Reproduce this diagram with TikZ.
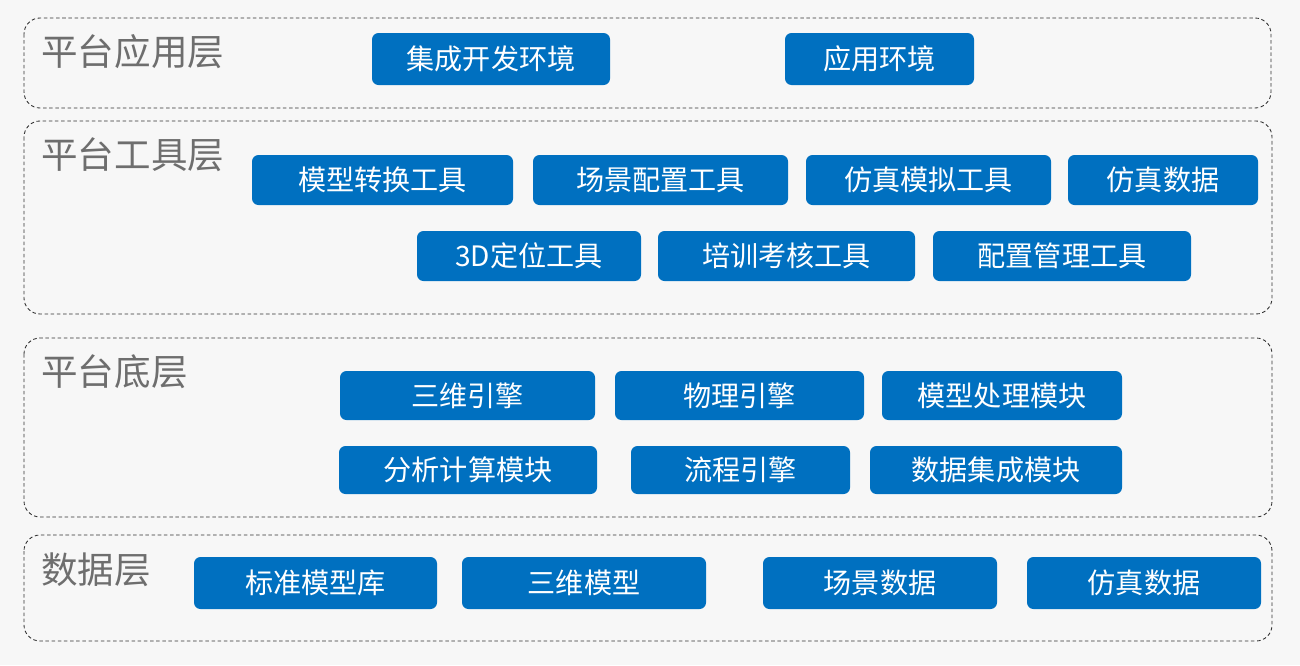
\documentclass[tikz,border=0pt]{standalone}
\usepackage{fontspec}
\setmainfont{Noto Sans CJK SC}
\usepackage{tikz}
\usetikzlibrary{positioning}
\definecolor{modblue}{RGB}{0,112,192}
\definecolor{labgray}{RGB}{110,110,110}
\definecolor{bggray}{RGB}{247,247,247}
\tikzset{
  layer/.style={draw=black!80, line width=0.5pt, dash pattern=on 2pt off 1.5pt, rounded corners=0.32cm},
  laylabel/.style={anchor=west, inner sep=0pt, text=labgray, font=\fontsize{20.8pt}{22pt}\selectfont},
  modbox/.style={fill=modblue, rounded corners=0.13cm, text=white, inner sep=0pt,
    minimum height=1cm, font=\fontsize{16pt}{18pt}\selectfont},
}

\begin{document}
\begin{tikzpicture}
    % background
    \fill[bggray] (0,0) rectangle (26,-13.3);
    \useasboundingbox (0,0) rectangle (26,-13.3);

    % layers
    \draw[layer] (0.48,-0.36) rectangle (25.42,-2.16);
    \draw[layer] (0.48,-2.42) rectangle (25.44,-6.28);
    \draw[layer] (0.48,-6.76) rectangle (25.44,-10.34);
    \draw[layer] (0.48,-10.70) rectangle (25.44,-12.82);

    \node[laylabel] (appL)  at (0.82,-1.04)  {平台应用层};
    \node[laylabel] (toolL) at (0.82,-3.10)  {平台工具层};
    \node[laylabel] (baseL) at (0.82,-7.44)  {平台底层};
    \node[laylabel] (dataL) at (0.82,-11.40) {数据层};

    % application layer
    \node[modbox, minimum width=4.76cm, minimum height=1.04cm] (ide) at (9.82,-1.18) {集成开发环境};
    \node[modbox, minimum width=3.78cm, minimum height=1.04cm] (env) at (17.59,-1.18) {应用环境};

    % tool layer
    \node[modbox, minimum width=5.22cm] (conv)  at (7.65,-3.60)  {模型转换工具};
    \node[modbox, minimum width=5.10cm] (scene) at (13.21,-3.60) {场景配置工具};
    \node[modbox, minimum width=4.90cm] (simt)  at (18.57,-3.60) {仿真模拟工具};
    \node[modbox, minimum width=3.80cm] (simd)  at (23.26,-3.60) {仿真数据};
    \node[modbox, minimum width=4.48cm] (loc)   at (10.58,-5.12) {3D定位工具};
    \node[modbox, minimum width=5.14cm] (train) at (15.73,-5.12) {培训考核工具};
    \node[modbox, minimum width=5.16cm] (cfg)   at (21.24,-5.12) {配置管理工具};

    % base layer
    \node[modbox, minimum width=5.10cm, minimum height=0.98cm] (eng3d) at (9.35,-7.91)  {三维引擎};
    \node[modbox, minimum width=4.98cm, minimum height=0.98cm] (phys)  at (14.79,-7.91) {物理引擎};
    \node[modbox, minimum width=4.80cm, minimum height=0.98cm] (mproc) at (20.04,-7.91) {模型处理模块};
    \node[modbox, minimum width=5.16cm, minimum height=0.96cm] (calc)  at (9.36,-9.40)  {分析计算模块};
    \node[modbox, minimum width=4.38cm, minimum height=0.96cm] (flow)  at (14.81,-9.40) {流程引擎};
    \node[modbox, minimum width=5.04cm, minimum height=0.96cm] (dint)  at (19.92,-9.40) {数据集成模块};

    % data layer
    \node[modbox, minimum width=4.86cm, minimum height=1.04cm] (stdlib) at (6.31,-11.66)  {标准模型库};
    \node[modbox, minimum width=4.88cm, minimum height=1.04cm] (model3d) at (11.68,-11.66) {三维模型};
    \node[modbox, minimum width=4.68cm, minimum height=1.04cm] (scdata) at (17.60,-11.66) {场景数据};
    \node[modbox, minimum width=4.68cm, minimum height=1.04cm] (sdata)  at (22.88,-11.66) {仿真数据};
\end{tikzpicture}
\end{document}
